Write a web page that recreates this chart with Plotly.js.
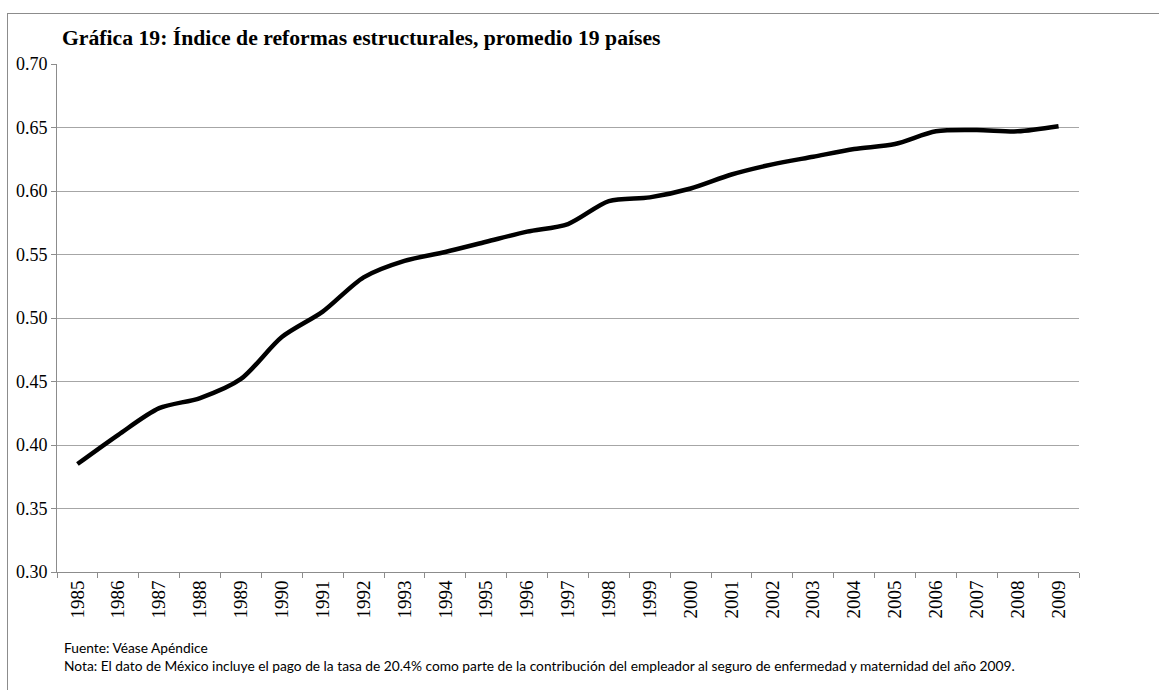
<!DOCTYPE html>
<html>
<head>
<meta charset="utf-8">
<script src="https://cdn.plot.ly/plotly-3.0.1.min.js"></script>
<style>
html,body{margin:0;padding:0;background:#fff;}
#wrap{position:relative;width:1159px;height:690px;}
#chart{width:1159px;height:690px;}
#frame{position:absolute;left:7px;top:13px;width:1152px;height:677px;border-top:1px solid #8c8c8c;border-left:1px solid #8c8c8c;pointer-events:none;}
</style>
</head>
<body>
<div id="wrap"><div id="chart"></div><div id="frame"></div></div>
<script>
const years = ["1985","1986","1987","1988","1989","1990","1991","1992","1993","1994","1995","1996","1997","1998","1999","2000","2001","2002","2003","2004","2005","2006","2007","2008","2009"];
const indice = [0.385,0.408,0.429,0.437,0.452,0.485,0.505,0.532,0.545,0.552,0.560,0.568,0.574,0.592,0.595,0.602,0.613,0.621,0.627,0.633,0.637,0.647,0.648,0.647,0.651];
const yTicks = [0.30,0.35,0.40,0.45,0.50,0.55,0.60,0.65,0.70];
const titleText = "Gráfica 19: Índice de reformas estructurales, promedio 19 países";
const fuente = "Fuente: Véase Apéndice";
const nota = "Nota: El dato de México incluye el pago de la tasa de 20.4% como parte de la contribución del empleador al seguro de enfermedad y maternidad del año 2009.";

const W = 1159, H = 690, L = 57, R = 1079, T = 64, B = 572;
const px = X => (X - L) / (R - L);
const py = Y => (B - Y) / (B - T);
const SERIF = 'Liberation Serif, Times New Roman, serif';
const SANS = 'Lato, Open Sans, sans-serif';

const trace = {
  x: years, y: indice, type: 'scatter', mode: 'lines',
  line: {color: '#000000', width: 4.5, shape: 'spline', smoothing: 0.8},
  hoverinfo: 'x+y'
};

const layout = {
  width: W, height: H,
  margin: {l: L, r: W - R, t: T, b: H - B, pad: 0},
  paper_bgcolor: '#ffffff', plot_bgcolor: '#ffffff',
  showlegend: false,
  font: {family: SERIF, size: 18, color: '#000'},
  title: {
    text: '<b>' + titleText + '</b>',
    font: {family: SERIF, size: 21.7, color: '#000'},
    xref: 'container', yref: 'container',
    x: 62 / W, xanchor: 'left', y: 1 - 37 / H, yanchor: 'middle'
  },
  xaxis: {
    type: 'category', range: [-0.5, years.length - 0.5],
    tickangle: -90, tickson: 'boundaries', ticks: 'outside', ticklen: 5, tickcolor: '#8c8c8c',
    showline: true, linecolor: '#8c8c8c', linewidth: 1, showgrid: false, zeroline: false,
    tickfont: {family: SERIF, size: 19, color: '#000'},
    fixedrange: true
  },
  yaxis: {
    range: [0.30, 0.70], tickvals: yTicks, ticktext: yTicks.map(v => v.toFixed(2)),
    ticks: 'outside', ticklen: 5, tickcolor: '#8c8c8c',
    showline: true, linecolor: '#8c8c8c', linewidth: 1,
    showgrid: true, gridcolor: '#a6a6a6', gridwidth: 1, zeroline: false,
    tickfont: {family: SERIF, size: 18, color: '#000'},
    fixedrange: true
  },
  annotations: [
    {text: fuente, xref: 'paper', yref: 'paper', x: px(62), y: py(647), xanchor: 'left', yanchor: 'middle',
     showarrow: false, font: {family: SANS, size: 13.75, color: '#000'}},
    {text: nota, xref: 'paper', yref: 'paper', x: px(62), y: py(665), xanchor: 'left', yanchor: 'middle',
     showarrow: false, font: {family: SANS, size: 13.75, color: '#000'}}
  ]
};

Plotly.newPlot('chart', [trace], layout, {displayModeBar: false, staticPlot: true});
</script>
</body>
</html>
